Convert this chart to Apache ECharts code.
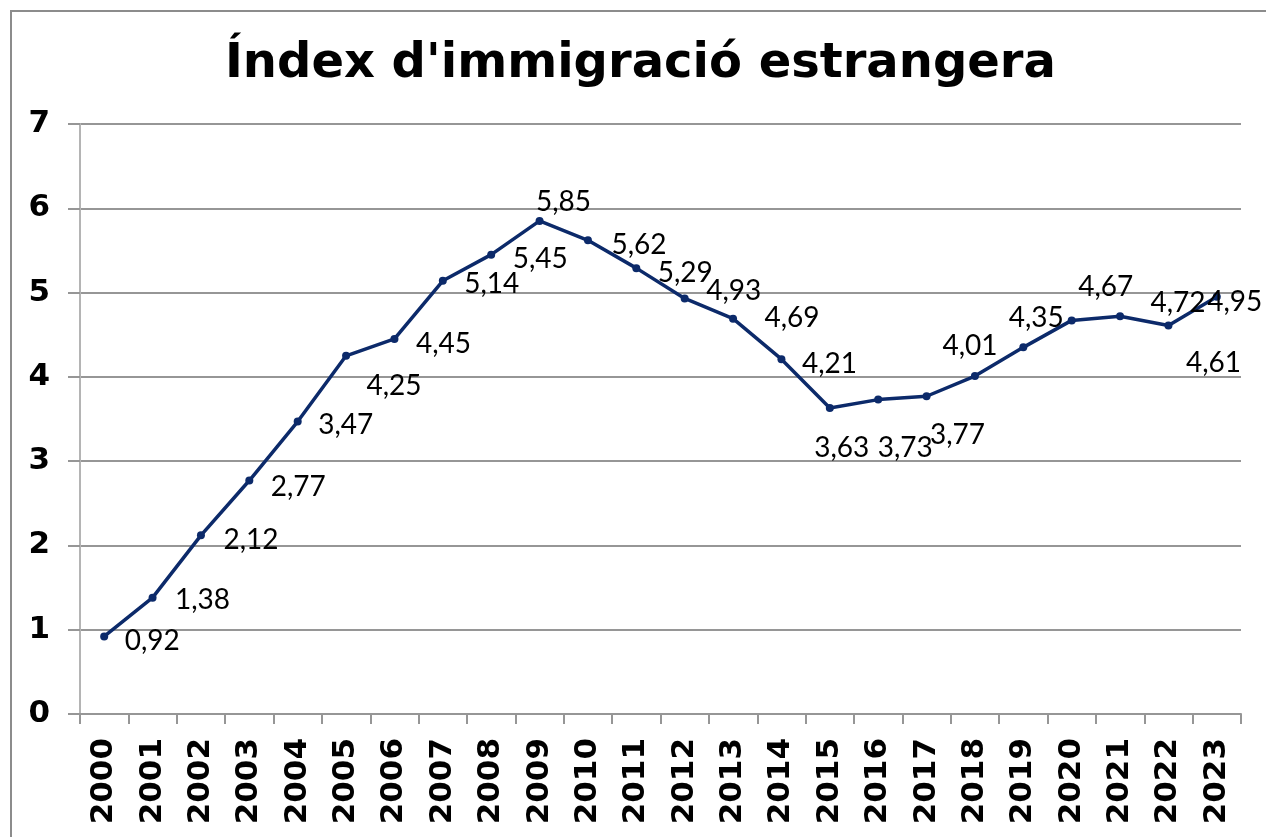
<!DOCTYPE html>
<html>
<head>
<meta charset="utf-8">
<title>Índex d'immigració estrangera</title>
<script src="https://cdn.jsdelivr.net/npm/echarts@6/dist/echarts.min.js"></script>
<style>
  html, body { margin: 0; padding: 0; background: #fff; overflow: hidden; }
  #chart { width: 1266px; height: 837px; }
</style>
</head>
<body>
<div id="chart"></div>
<script>
// dades
var years = ['2000', '2001', '2002', '2003', '2004', '2005', '2006', '2007', '2008', '2009', '2010', '2011',
  '2012', '2013', '2014', '2015', '2016', '2017', '2018', '2019', '2020', '2021', '2022', '2023'];
var values = [0.92, 1.38, 2.12, 2.77, 3.47, 4.25, 4.45, 5.14, 5.45, 5.85, 5.62, 5.29,
  4.93, 4.69, 4.21, 3.63, 3.73, 3.77, 4.01, 4.35, 4.67, 4.72, 4.61, 4.95];

// desplaçament de cada etiqueta respecte del punt (com a l'original)
var labelOffsets = [
  [48, 5], [50, 2], [50, 5], [49, 6], [48, 3], [48, 30], [49, 5], [49, 3],
  [49, 4], [24, -19], [51, 5], [49, 5], [49, -8], [59, -1], [48, 5], [12, 40],
  [27, 48], [31, 39], [-5, -30], [13, -29], [34, -33], [58, -13], [45, 38], [18, 5]
];

var lineColor = '#0c2a6a';
var gridColor = '#969696';

var myChart = echarts.init(document.getElementById('chart'));

var option = {
  backgroundColor: '#ffffff',
  animation: false,
  title: {
    text: "Índex d'immigració estrangera",
    left: 220,
    top: 36,
    textStyle: {
      fontFamily: 'DejaVu Sans',
      fontWeight: 'bold',
      fontSize: 48,
      color: '#000'
    }
  },
  graphic: [
    {
      // marc exterior
      type: 'rect',
      shape: { x: 11, y: 11, width: 1300, height: 900 },
      style: { fill: null, stroke: '#8c8c8c', lineWidth: 2 },
      silent: true
    }
  ],
  grid: {
    left: 80,
    right: 25,
    top: 124,
    bottom: 123
  },
  xAxis: {
    type: 'category',
    data: years,
    boundaryGap: true,
    axisLine: { lineStyle: { color: gridColor, width: 2 } },
    axisTick: { show: true, length: 10, lineStyle: { color: gridColor, width: 2 } },
    axisLabel: {
      rotate: 90,
      margin: 24,
      color: '#000',
      fontFamily: 'DejaVu Sans',
      fontWeight: 'bold',
      fontSize: 31
    },
    splitLine: { show: false }
  },
  yAxis: {
    type: 'value',
    min: 0,
    max: 7,
    interval: 1,
    axisLine: { show: true, lineStyle: { color: '#b4b4b4', width: 2 } },
    axisTick: { show: true, length: 12, lineStyle: { color: gridColor, width: 2 } },
    axisLabel: {
      margin: 30,
      color: '#000',
      fontFamily: 'DejaVu Sans',
      fontWeight: 'bold',
      fontSize: 31
    },
    splitLine: { show: true, lineStyle: { color: gridColor, width: 2 } }
  },
  series: [
    {
      name: 'Índex',
      type: 'line',
      data: values.map(function (v, i) {
        return {
          value: v,
          label: { offset: labelOffsets[i] }
        };
      }),
      symbol: 'circle',
      symbolSize: 8,
      lineStyle: { color: lineColor, width: 3.5 },
      itemStyle: { color: lineColor },
      label: {
        show: true,
        position: 'inside',
        color: '#000',
        fontFamily: 'Lato',
        fontSize: 28,
        formatter: function (p) {
          return p.value.toFixed(2).replace('.', ',');
        }
      }
    }
  ]
};

myChart.setOption(option);
window.addEventListener('resize', function () {
  myChart.resize();
});
</script>
</body>
</html>
